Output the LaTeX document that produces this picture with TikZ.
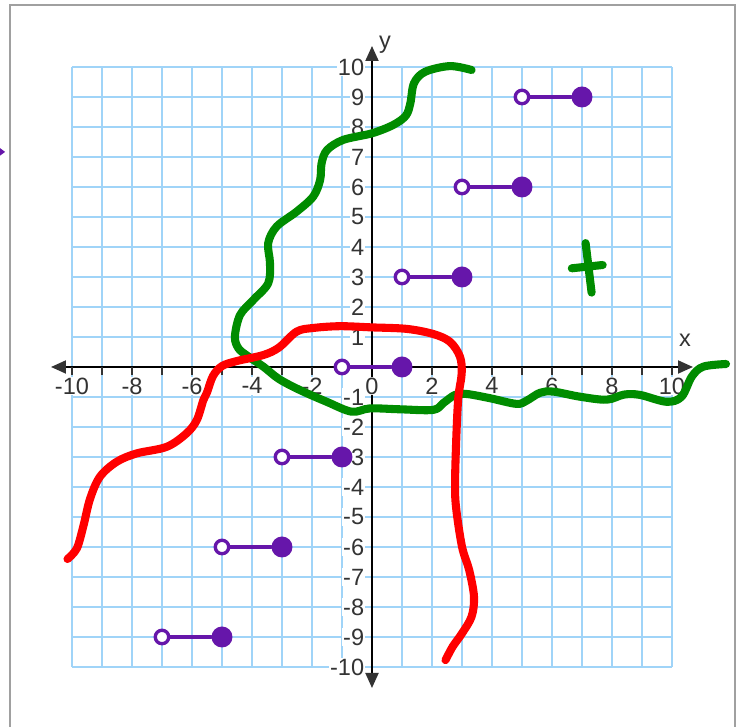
\documentclass[tikz,border=0pt]{standalone}
\usepackage{fontspec}
\setmainfont{Liberation Sans}
\usepackage{tikz}
\usetikzlibrary{arrows.meta, calc}
\definecolor{cuadricula}{RGB}{160,212,248}
\definecolor{gristexto}{RGB}{51,51,51}
\definecolor{verdetrazo}{RGB}{0,140,0}
\definecolor{rojotrazo}{RGB}{255,0,0}
\definecolor{moradotrazo}{RGB}{102,22,170}
\definecolor{marco}{RGB}{160,160,160}
\tikzset{
  rejilla/.style={draw=cuadricula, line width=0.85pt},
  eje/.style={line width=1.1pt, black, {Triangle[length=3mm,width=2.6mm,color=gristexto]}-{Triangle[length=3mm,width=2.6mm,color=gristexto]}},
  marca/.style={line width=0.9pt, gristexto},
  etiqueta/.style={font=\fontsize{13.4}{15}\selectfont, text=gristexto, fill=white, inner sep=0.5pt},
  curvaverde/.style={draw=verdetrazo, line width=4.6pt, line cap=round, line join=round},
  curvaroja/.style={draw=rojotrazo, line width=4.6pt, line cap=round, line join=round},
  abierto/.style={circle, draw=moradotrazo, line width=1.9pt, fill=white, minimum size=0.27cm, inner sep=0pt},
  cerrado/.style={circle, fill=moradotrazo, minimum size=0.42cm, inner sep=0pt},
  segmento/.style={draw=moradotrazo, line width=2pt, line cap=round}
}

\begin{document}
\begin{tikzpicture}[x=0.6cm, y=0.6cm]
        \useasboundingbox (-12.4,-12.0) rectangle (12.2,12.233);

        % --- Marco y rejilla ---
        \draw[marco, line width=1.1pt] (-12.08,-12.5) rectangle (12.1,12.08);
        \draw[rejilla, step=1] (-10,-10) grid (10,10);

        % --- Ejes ---
        \draw[eje] (-10.7,0) -- (10.7,0);
        \draw[eje] (0,-10.7) -- (0,10.7);
        \node[etiqueta, fill=none] (ejex) at (10.43,0.9) {x};
        \node[etiqueta, fill=none] (ejey) at (0.43,10.75) {y};

        % Numeros pares en x, todos los enteros en y
        \foreach \i in {-10,-8,...,10}
            \node[etiqueta] (nx\i) at (\i,-0.63) {\i};
        \foreach \i in {-10,...,-1,1,2,...,10}
            \node[etiqueta, anchor=east] (ny\i) at (-0.22,\i) {\i};
        \foreach \i in {-10,...,-1,1,2,...,10}
            \draw[marca] (\i,0) -- (\i,-0.28);

        % --- Curva verde ---
        \draw[curvaverde] plot[smooth, tension=0.55] coordinates {
            (3.32,9.9) (2.6,10.03) (1.77,9.84) (1.4,9.46) (1.28,8.8) (1.13,8.38)
            (0.71,8.07) (0,7.79) (-0.96,7.57) (-1.5,7.23) (-1.68,6.79) (-1.73,6.23)
            (-1.96,5.68) (-2.51,5.18) (-3.18,4.68) (-3.46,4.13) (-3.4,3.46) (-3.46,2.79)
            (-3.96,2.23) (-4.4,1.73) (-4.57,1.01) (-4.45,0.62) (-4.15,0.37) (-3.62,0.01)
            (-3.1,-0.4) (-2.4,-0.77) (-1.51,-1.16) (-0.68,-1.49) (-0.07,-1.38) (0.93,-1.41)
            (2.04,-1.43) (2.38,-1.2) (2.77,-0.93) (3.16,-0.9) (3.93,-1.04) (4.82,-1.23)
            (5.16,-1.12) (5.6,-0.86) (6.04,-0.82) (6.93,-0.99) (7.82,-1.09) (8.4,-0.92)
            (8.93,-0.93) (9.82,-1.16) (10.32,-0.99) (10.66,-0.32) (11.04,0.01) (11.8,0.1)};
        % la cruz verde
        \draw[curvaverde] (7.12,4.13) -- (7.32,2.48);
        \draw[curvaverde] (6.66,3.29) -- (7.69,3.4);

        % --- Curva roja ---
        \draw[curvaroja] plot[smooth, tension=0.55] coordinates {
            (-10.15,-6.4) (-9.84,-6.05) (-9.62,-5.3) (-9.4,-4.4) (-9.07,-3.66) (-8.51,-3.16)
            (-7.84,-2.88) (-6.84,-2.66) (-6.18,-2.21) (-5.84,-1.77) (-5.62,-1.1) (-5.5,-0.85)
            (-5.3,-0.3) (-5.0,0.03) (-4.5,0.2) (-3.62,0.4) (-3.1,0.65) (-2.51,1.18)
            (-1.96,1.3) (-1.07,1.36) (0,1.32) (1.16,1.27) (2.04,1.1) (2.6,0.84)
            (2.93,0.35) (2.99,-0.21) (2.88,-0.99) (2.82,-2.1) (2.77,-3.77) (2.8,-4.66)
            (3.0,-5.99) (3.24,-6.77) (3.4,-7.66) (3.32,-8.32) (3.0,-8.88) (2.69,-9.32)
            (2.45,-9.77)};

        % --- Segmentos morados: circulo abierto a la izquierda, lleno a la derecha ---
        \foreach \px/\py [count=\k] in {5/9, 3/6, 1/3, -1/0, -3/-3, -5/-6, -7/-9} {
            \node[abierto] (abierto\k) at (\px,\py) {};
            \node[cerrado] (cerrado\k) at ({\px+2},\py) {};
            \draw[segmento] (abierto\k) -- (cerrado\k);
        }

        % Trazo morado suelto en el borde izquierdo
        \fill[moradotrazo] (-12.5,7.37) -- (-12.23,7.17) -- (-12.5,6.97) -- cycle;

    \end{tikzpicture}
\end{document}
